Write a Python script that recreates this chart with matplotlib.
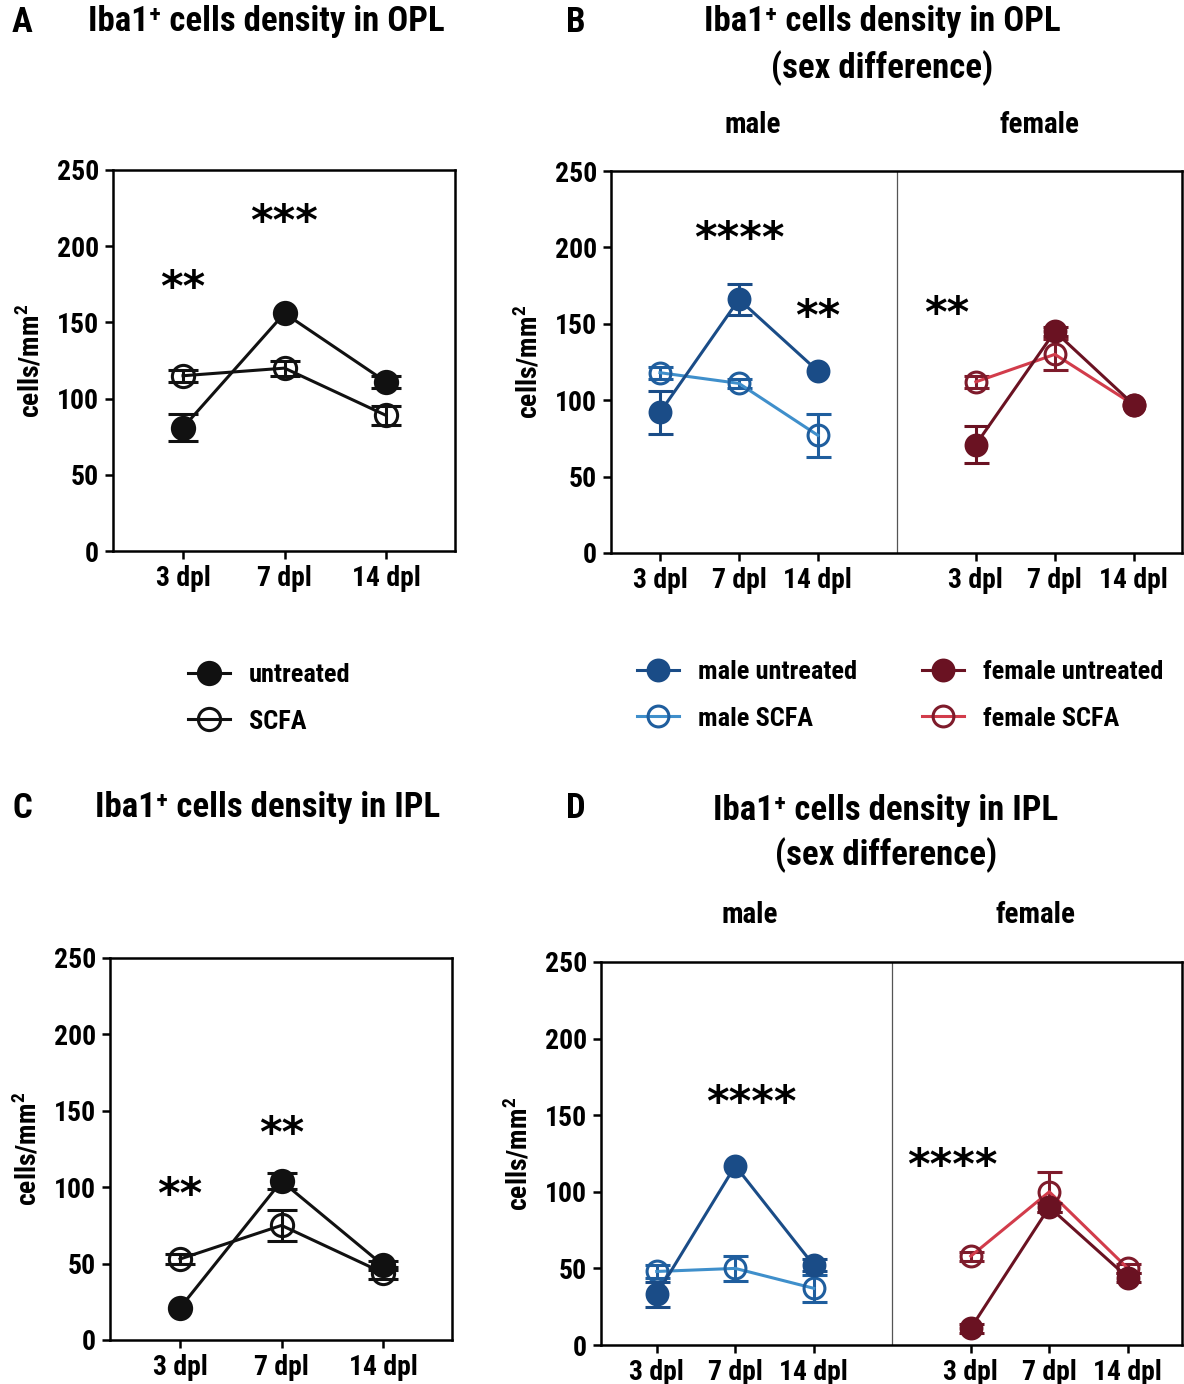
import matplotlib
matplotlib.use("Agg")
import matplotlib.pyplot as plt
import numpy as np

FONT = ["Roboto Condensed", "Liberation Sans", "DejaVu Sans"]
plt.rcParams.update({
    "font.family": FONT,
    "font.weight": "bold",
    "axes.labelweight": "bold",
    "mathtext.fontset": "custom",
    "mathtext.rm": "Roboto Condensed:bold",
    "mathtext.bf": "Roboto Condensed:bold",
    "axes.linewidth": 1.8,
})

DAYS = ["3 dpl", "7 dpl", "14 dpl"]

# panel A: OPL, pooled
opl_untreated = [81, 156, 111]
opl_untreated_err = [9, 2, 4]
opl_scfa = [115, 120, 89]
opl_scfa_err = [4, 5, 6]

# panel B: OPL by sex
opl_male_untreated = [92, 166, 119]
opl_male_untreated_err = [14, 10, 2]
opl_male_scfa = [118, 111, 77]
opl_male_scfa_err = [4, 3, 14]
opl_female_untreated = [71, 145, 97]
opl_female_untreated_err = [12, 3, 2]
opl_female_scfa = [112, 130, 97]
opl_female_scfa_err = [4, 10, 2]

# panel C: IPL, pooled
ipl_untreated = [21, 104, 49]
ipl_untreated_err = [2, 5, 3]
ipl_scfa = [53, 75, 44]
ipl_scfa_err = [3, 10, 4]

# panel D: IPL by sex
ipl_male_untreated = [33, 117, 52]
ipl_male_untreated_err = [8, 2, 4]
ipl_male_scfa = [48, 50, 37]
ipl_male_scfa_err = [4, 8, 9]
ipl_female_untreated = [11, 90, 44]
ipl_female_untreated_err = [3, 3, 3]
ipl_female_scfa = [58, 100, 50]
ipl_female_scfa_err = [3, 13, 3]

# significance marks: (x position, y value, text)
stars_a = [(1, 172, "**"), (2, 215, "***")]
stars_b = [(2, 205, "****"), (3, 154, "**"), (4.63, 156, "**")]
stars_c = [(1, 94, "**"), (2, 134, "**")]
stars_d = [(2.2, 157, "****"), (4.77, 116, "****")]

MALE_X = [1, 2, 3]
FEMALE_X = [5, 6, 7]
POOLED_X = [1, 2, 3]

BLACK = "#111111"
MALE_DARK = "#1A4C87"
MALE_SCFA_LINE = "#3F8FCB"
MALE_SCFA_MARK = "#1F5E9E"
FEMALE_DARK = "#6A1222"
FEMALE_SCFA_LINE = "#D23C4B"
FEMALE_SCFA_MARK = "#7E1B2B"

W, H = 1184, 1384
fig = plt.figure(figsize=(W / 100, H / 100), dpi=100)


def px_axes(left, top, right, bottom):
    return fig.add_axes([left / W, 1 - bottom / H, (right - left) / W, (bottom - top) / H])


def series(ax, x, y, err, line, mark, filled, ms=15, cap=9, lw=2.2):
    # bars shorter than the symbol are left out, as Prism does
    err = np.where(np.asarray(err, float) < 2.5, np.nan, err)
    return ax.errorbar(
        x, y, yerr=err, color=line, marker="o", markersize=ms,
        markerfacecolor=mark if filled else "none", markeredgecolor=mark,
        markeredgewidth=2.2, ecolor=mark, elinewidth=2.2, capsize=cap,
        capthick=2.2, linewidth=lw, zorder=4 if filled else 3,
    )


def style(ax, xticks, xlim, tick_size=20):
    ax.set_ylim(0, 250)
    ax.set_yticks(range(0, 251, 50))
    ax.set_xlim(*xlim)
    ax.set_xticks(xticks)
    ax.set_xticklabels(DAYS * (len(xticks) // 3))
    ax.tick_params(direction="out", length=6, width=1.8, labelsize=tick_size, pad=4)
    ax.set_ylabel("cells/mm$^2$", fontsize=20, labelpad=8)


def stars(ax, marks):
    for x, y, s in marks:
        ax.text(x, y, s, ha="center", va="center", fontsize=31,
                family="DejaVu Sans", fontweight="bold")


# A
ax_a = px_axes(113, 170, 455, 551)
h_a1 = series(ax_a, POOLED_X, opl_untreated, opl_untreated_err, BLACK, BLACK, True, ms=16, cap=11)
h_a2 = series(ax_a, POOLED_X, opl_scfa, opl_scfa_err, BLACK, BLACK, False, ms=16, cap=11)
style(ax_a, POOLED_X, (0.31, 3.68))
stars(ax_a, stars_a)

# B
ax_b = px_axes(611, 171, 1182, 553)
series(ax_b, MALE_X, opl_male_untreated, opl_male_untreated_err, MALE_DARK, MALE_DARK, True)
series(ax_b, MALE_X, opl_male_scfa, opl_male_scfa_err, MALE_SCFA_LINE, MALE_SCFA_MARK, False)
series(ax_b, FEMALE_X, opl_female_untreated, opl_female_untreated_err, FEMALE_DARK, FEMALE_DARK, True)
series(ax_b, FEMALE_X, opl_female_scfa, opl_female_scfa_err, FEMALE_SCFA_LINE, FEMALE_SCFA_MARK, False)
style(ax_b, MALE_X + FEMALE_X, (0.38, 7.61))
ax_b.axvline(4, color="#555555", linewidth=0.9)
stars(ax_b, stars_b)

# C
ax_c = px_axes(110, 958, 452, 1340)
series(ax_c, POOLED_X, ipl_untreated, ipl_untreated_err, BLACK, BLACK, True, ms=16, cap=11)
series(ax_c, POOLED_X, ipl_scfa, ipl_scfa_err, BLACK, BLACK, False, ms=16, cap=11)
style(ax_c, POOLED_X, (0.31, 3.68))
stars(ax_c, stars_c)

# D
ax_d = px_axes(601, 962, 1182, 1345)
h_d1 = series(ax_d, MALE_X, ipl_male_untreated, ipl_male_untreated_err, MALE_DARK, MALE_DARK, True)
h_d2 = series(ax_d, MALE_X, ipl_male_scfa, ipl_male_scfa_err, MALE_SCFA_LINE, MALE_SCFA_MARK, False)
h_d3 = series(ax_d, FEMALE_X, ipl_female_untreated, ipl_female_untreated_err, FEMALE_DARK, FEMALE_DARK, True)
h_d4 = series(ax_d, FEMALE_X, ipl_female_scfa, ipl_female_scfa_err, FEMALE_SCFA_LINE, FEMALE_SCFA_MARK, False)
style(ax_d, MALE_X + FEMALE_X, (0.29, 7.69))
ax_d.axvline(4, color="#555555", linewidth=0.9)
stars(ax_d, stars_d)

# titles and panel letters
TITLE = 25


def ftext(x, y, s, size=TITLE, ha="center"):
    fig.text(x / W, 1 - y / H, s, ha=ha, va="center", fontsize=size)


ftext(12, 22, "A", ha="left")
ftext(88, 22, "Iba1\u207a cells density in OPL", ha="left")
ftext(566, 22, "B", ha="left")
ftext(882, 22, "Iba1\u207a cells density in OPL")
ftext(882, 68, "(sex difference)")
ftext(753, 125, "male", size=21)
ftext(1040, 125, "female", size=21)

ftext(12, 808, "C", ha="left")
ftext(95, 808, "Iba1\u207a cells density in IPL", ha="left")
ftext(566, 808, "D", ha="left")
ftext(886, 810, "Iba1\u207a cells density in IPL")
ftext(886, 855, "(sex difference)")
ftext(750, 915, "male", size=21)
ftext(1035, 915, "female", size=21)

# legends
leg_kw = dict(frameon=False, fontsize=19, handlelength=1.6, handletextpad=0.7,
              labelspacing=0.85, borderpad=0, loc="upper left")
fig.legend([h_a1[0], h_a2[0]], ["untreated", "SCFA"],
           bbox_to_anchor=(175 / W, 1 - 650 / H), **leg_kw)
fig.legend([h_d1[0], h_d2[0]], ["male untreated", "male SCFA"],
           bbox_to_anchor=(624 / W, 1 - 647 / H), **leg_kw)
fig.legend([h_d3[0], h_d4[0]], ["female untreated", "female SCFA"],
           bbox_to_anchor=(909 / W, 1 - 647 / H), **leg_kw)

fig.savefig("out.png", dpi=100)
